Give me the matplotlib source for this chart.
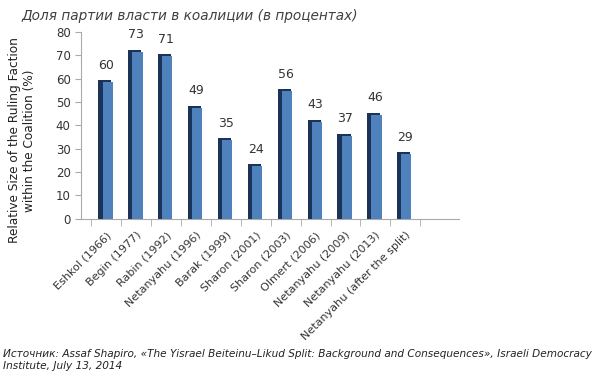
import matplotlib.pyplot as plt
import numpy as np

# data
leaders = ["Eshkol (1966)", "Begin (1977)", "Rabin (1992)", "Netanyahu (1996)",
           "Barak (1999)", "Sharon (2001)", "Sharon (2003)", "Olmert (2006)",
           "Netanyahu (2009)", "Netanyahu (2013)", "Netanyahu (after the split)"]
share = [60, 73, 71, 49, 35, 24, 56, 43, 37, 46, 29]

title = "Доля партии власти в коалиции (в процентах)"
ylabel = "Relative Size of the Ruling Faction\nwithin the Coalition (%)"
source = ("Источник: Assaf Shapiro, «The Yisrael Beiteinu–Likud Split: Background and Consequences», "
          "Israeli Democracy\nInstitute, July 13, 2014")

fig = plt.figure(figsize=(6, 3.76), dpi=100)
ax = fig.add_axes([0.135, 0.418, 0.63, 0.497])

x = np.arange(len(leaders))
# fake 3d look: dark side/top behind the blue front face
ax.bar(x - 0.05, np.array(share) - 0.6, width=0.44, color="#1b3358", zorder=2)
ax.bar(x + 0.04, np.array(share) - 1.4, width=0.34, color="#4f81bd", zorder=3)

for xi, v in zip(x, share):
    ax.text(xi, v + 3, str(v), ha="center", va="bottom", fontsize=9, color="#333333")

ax.set_xlim(-0.85, 11.8)
ax.set_ylim(0, 80)
ax.set_yticks(range(0, 81, 10))
ax.tick_params(axis="y", labelsize=8.5, colors="#333333", length=4, color="#aaaaaa")
ax.set_xticks(x)
ax.set_xticklabels(leaders, rotation=45, ha="right", rotation_mode="anchor", fontsize=8, color="#333333")
ax.set_xticks(np.arange(-0.5, len(leaders), 1), minor=True)
ax.tick_params(axis="x", which="major", length=0, pad=8)
ax.tick_params(axis="x", which="minor", length=5, color="#aaaaaa")

for s in ["top", "right"]:
    ax.spines[s].set_visible(False)
ax.spines["left"].set_color("#aaaaaa")
ax.spines["bottom"].set_color("#aaaaaa")

ax.set_ylabel(ylabel, fontsize=8.7, color="#222222")
ax.yaxis.set_label_coords(-0.118, 0.42)

fig.text(0.035, 0.975, title, fontsize=9.8, style="italic", color="#404040", va="top")
fig.text(0.005, 0.042, source, fontsize=7.6, style="italic", color="#222222", va="center",
         linespacing=1.25)

fig.savefig("out.png", dpi=100)
